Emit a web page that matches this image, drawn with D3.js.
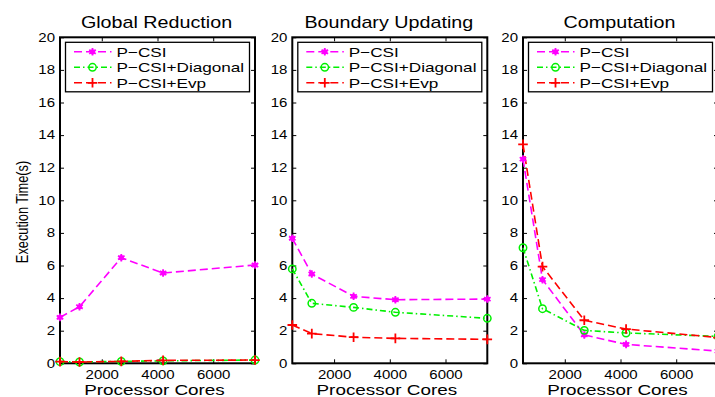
<!DOCTYPE html>
<html>
<head>
<meta charset="utf-8">
<script src="https://cdn.jsdelivr.net/npm/d3@7"></script>
<style>
body { margin: 0; background: #fff; }
svg { display: block; font-family: "Liberation Sans", Arial, sans-serif; }
</style>
</head>
<body>
<div id="chart"></div>
<script>
// processor cores (x) shared by all three panels
var cores = [500, 1200, 2700, 4200, 7500];
var xTicks = [2000, 4000, 6000];
var yTicks = [0, 2, 4, 6, 8, 10, 12, 14, 16, 18, 20];

var titles = ["Global Reduction", "Boundary Updating", "Computation"];
var seriesNames = ["P\u2212CSI", "P\u2212CSI+Diagonal", "P\u2212CSI+Evp"];

// execution time (s), one array per panel and series
var globalCsi = [2.82, 3.47, 6.48, 5.54, 6.03];
var globalDiag = [0.1, 0.08, 0.12, 0.15, 0.2];
var globalEvp = [0.1, 0.08, 0.12, 0.18, 0.2];

var boundaryCsi = [7.67, 5.48, 4.11, 3.9, 3.94];
var boundaryDiag = [5.79, 3.68, 3.43, 3.13, 2.76];
var boundaryEvp = [2.35, 1.82, 1.6, 1.53, 1.47];

var compCsi = [12.53, 5.13, 1.74, 1.16, 0.75];
var compDiag = [7.09, 3.35, 2.02, 1.86, 1.65];
var compEvp = [13.43, 5.93, 2.64, 2.1, 1.58];

var panels = [
    [globalCsi, globalDiag, globalEvp],
    [boundaryCsi, boundaryDiag, boundaryEvp],
    [compCsi, compDiag, compEvp]
];

var styles = [
    {color: "#ff00ff", dash: "8,4", marker: "star"},
    {color: "#00f000", dash: "6,3,1.5,3", marker: "circle"},
    {color: "#ff0000", dash: "8,4", marker: "plus"}
];

var W = 715, H = 397;
var plotTop = 37.3, plotBottom = 363.3;
var panelLeft = [60, 292.3, 523];
var panelWidth = 195;
// the picture is a bit wider than tall, so text is stretched sideways
var stretch = 1.25;

var svg = d3.select("#chart").append("svg")
    .attr("width", W)
    .attr("height", H);

var y = d3.scaleLinear().domain([0, 20]).range([plotBottom, plotTop]);

function addText(g, tx, ty, sx, size, anchor, str) {
    return g.append("text")
        .attr("transform", "translate(" + tx + "," + ty + ") scale(" + sx + ",1)")
        .attr("text-anchor", anchor)
        .style("font-size", size + "px")
        .attr("fill", "#000")
        .text(str);
}

function drawMarker(g, type, color, px, py) {
    if (type == "circle") {
        g.append("circle")
            .attr("cx", px).attr("cy", py).attr("r", 3.7)
            .attr("fill", "none").attr("stroke", color).attr("stroke-width", 1.5);
    } else if (type == "plus") {
        g.append("path")
            .attr("d", "M-4.8,0H4.8M0,-4.8V4.8")
            .attr("transform", "translate(" + px + "," + py + ")")
            .attr("stroke", color).attr("stroke-width", 1.8);
    } else {
        g.append("path")
            .attr("d", d3.symbol().type(d3.symbolAsterisk).size(40)())
            .attr("transform", "translate(" + px + "," + py + ")")
            .attr("fill", "none").attr("stroke", color).attr("stroke-width", 1.8);
        g.append("circle")
            .attr("cx", px).attr("cy", py).attr("r", 2.6)
            .attr("fill", color);
    }
}

panels.forEach(function(series, p) {
    var x0 = panelLeft[p];
    var x = d3.scaleLinear().domain([500, 7500]).range([x0, x0 + panelWidth]);

    var g = svg.append("g");

    // clip so the lines stay near the box
    svg.append("clipPath").attr("id", "clip" + p)
        .append("rect")
        .attr("x", x0 - 6).attr("y", plotTop - 6)
        .attr("width", panelWidth + 12).attr("height", plotBottom - plotTop + 12);

    // bottom axis
    var xb = g.append("g")
        .attr("transform", "translate(0," + plotBottom + ")")
        .call(d3.axisBottom(x).tickValues(xTicks).tickSizeInner(-4).tickSizeOuter(0)
            .tickPadding(7).tickFormat(d3.format("d")));
    // top axis (ticks only)
    var xt = g.append("g")
        .attr("transform", "translate(0," + plotTop + ")")
        .call(d3.axisTop(x).tickValues(xTicks).tickSizeInner(-4).tickSizeOuter(0).tickFormat(""));
    var yl = g.append("g")
        .attr("transform", "translate(" + x0 + ",0)")
        .call(d3.axisLeft(y).tickValues(yTicks).tickSizeInner(-4).tickSizeOuter(0).tickPadding(4));
    var yr = g.append("g")
        .attr("transform", "translate(" + (x0 + panelWidth) + ",0)")
        .call(d3.axisRight(y).tickValues(yTicks).tickSizeInner(-4).tickSizeOuter(0).tickFormat(""));

    [xb, xt, yl, yr].forEach(function(a) {
        a.select(".domain").remove();
        a.selectAll("line").attr("stroke", "#000").attr("stroke-width", 1);
        a.selectAll("text").attr("fill", "#000").style("font-size", "12px")
            .style("font-family", "Liberation Sans, Arial, sans-serif")
            .attr("transform", "scale(" + stretch + ",1)");
    });

    // box
    g.append("rect")
        .attr("x", x0).attr("y", plotTop)
        .attr("width", panelWidth).attr("height", plotBottom - plotTop)
        .attr("fill", "none").attr("stroke", "#000").attr("stroke-width", 2);

    // title and x label
    addText(g, x0 + panelWidth / 2 - 1, 27.5, 1.16, 17, "middle", titles[p]);
    addText(g, x0 + panelWidth / 2 - 3, 394.5, 1.26, 15, "middle", "Processor Cores");

    var line = d3.line()
        .x(function(d, i) { return x(cores[i]); })
        .y(function(d) { return y(d); });

    var plot = g.append("g").attr("clip-path", "url(#clip" + p + ")");

    series.forEach(function(vals, s) {
        plot.append("path")
            .datum(vals)
            .attr("d", line)
            .attr("fill", "none")
            .attr("stroke", styles[s].color)
            .attr("stroke-width", 1.6)
            .attr("stroke-dasharray", styles[s].dash);
    });
    series.forEach(function(vals, s) {
        vals.forEach(function(v, i) {
            drawMarker(plot, styles[s].marker, styles[s].color, x(cores[i]), y(v));
        });
    });

    // legend
    var lx = x0 + 5.5, ly = plotTop + 5;
    var leg = g.append("g");
    leg.append("rect")
        .attr("x", lx).attr("y", ly)
        .attr("width", 184).attr("height", 49.5)
        .attr("fill", "#fff").attr("stroke", "#000").attr("stroke-width", 1.3);
    seriesNames.forEach(function(name, s) {
        var ry = ly + 9.5 + s * 15.5;
        leg.append("line")
            .attr("x1", lx + 8.5).attr("x2", lx + 46)
            .attr("y1", ry).attr("y2", ry)
            .attr("stroke", styles[s].color).attr("stroke-width", 1.5)
            .attr("stroke-dasharray", styles[s].dash);
        drawMarker(leg, styles[s].marker, styles[s].color, lx + 27, ry);
        addText(leg, lx + 51, ry + 5, 1.27, 13.5, "start", name);
    });
});

// shared y label
svg.append("text")
    .attr("transform", "translate(28,212) rotate(-90) scale(0.8,1)")
    .attr("text-anchor", "middle")
    .style("font-size", "16px")
    .text("Execution Time(s)");
</script>
</body>
</html>
